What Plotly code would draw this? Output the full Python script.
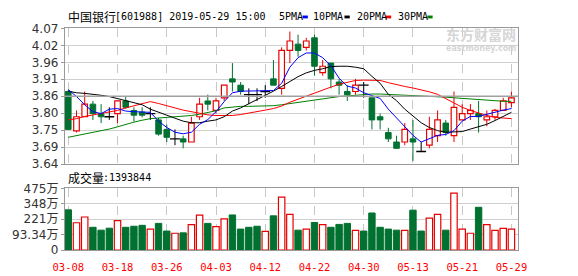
import plotly.graph_objects as go

# ---------------- data ----------------
dates = ["03-08", "03-11", "03-12", "03-13", "03-14", "03-15", "03-18", "03-19", "03-20", "03-21",
         "03-22", "03-25", "03-26", "03-27", "03-28", "03-29", "04-01", "04-02", "04-03", "04-04",
         "04-08", "04-09", "04-10", "04-11", "04-12", "04-15", "04-16", "04-17", "04-18", "04-19",
         "04-22", "04-23", "04-24", "04-25", "04-26", "04-29", "04-30", "05-06", "05-07", "05-08",
         "05-09", "05-10", "05-13", "05-14", "05-15", "05-16", "05-17", "05-20", "05-21", "05-22",
         "05-23", "05-24", "05-27", "05-28", "05-29"]

open_ = [3.87, 3.745, 3.79, 3.83, 3.80, 3.79, 3.80, 3.84, 3.81, 3.805,
         3.80, 3.78, 3.75, 3.72, 3.72, 3.71, 3.79, 3.84, 3.81, 3.85,
         3.91, 3.89, 3.86, 3.86, 3.87, 3.91, 3.88, 4.00, 4.02, 4.01,
         4.04, 3.93, 3.96, 3.90, 3.87, 3.87, 3.89, 3.85, 3.79, 3.74,
         3.71, 3.71, 3.72, 3.68, 3.70, 3.73, 3.77, 3.73, 3.78, 3.80,
         3.80, 3.78, 3.79, 3.81, 3.835]
high = [3.875, 3.81, 3.87, 3.84, 3.83, 3.82, 3.84, 3.855, 3.82, 3.82,
        3.82, 3.787, 3.765, 3.75, 3.73, 3.79, 3.85, 3.86, 3.85, 3.89,
        3.96, 3.90, 3.88, 3.88, 3.89, 3.97, 4.01, 4.06, 4.05, 4.04,
        4.05, 3.97, 3.96, 3.91, 3.89, 3.91, 3.90, 3.85, 3.80, 3.755,
        3.73, 3.77, 3.78, 3.71, 3.79, 3.81, 3.78, 3.87, 3.83, 3.83,
        3.84, 3.81, 3.815, 3.85, 3.87]
low = [3.75, 3.74, 3.79, 3.78, 3.77, 3.78, 3.77, 3.815, 3.775, 3.788,
       3.78, 3.73, 3.71, 3.70, 3.69, 3.71, 3.78, 3.81, 3.80, 3.84,
       3.87, 3.86, 3.83, 3.84, 3.85, 3.89, 3.86, 3.96, 3.98, 4.00,
       3.92, 3.92, 3.88, 3.86, 3.84, 3.86, 3.85, 3.75, 3.75, 3.71,
       3.69, 3.70, 3.65, 3.68, 3.69, 3.71, 3.73, 3.71, 3.78, 3.78,
       3.74, 3.76, 3.78, 3.81, 3.82]
close = [3.75, 3.79, 3.83, 3.80, 3.79, 3.79, 3.84, 3.82, 3.795, 3.795,
         3.80, 3.735, 3.725, 3.72, 3.71, 3.77, 3.83, 3.83, 3.84, 3.89,
         3.90, 3.87, 3.86, 3.86, 3.87, 3.89, 4.00, 4.03, 4.00, 4.03,
         3.95, 3.95, 3.91, 3.89, 3.86, 3.89, 3.89, 3.78, 3.78, 3.72,
         3.69, 3.75, 3.71, 3.68, 3.75, 3.78, 3.74, 3.82, 3.80, 3.81,
         3.79, 3.79, 3.81, 3.84, 3.85]

# volume in 万 (chart scale), and whether the volume bar is drawn as "up" (red hollow)
volume = [309, 210, 254, 175, 153, 168, 227, 175, 183, 190,
          161, 205, 146, 129, 132, 195, 268, 205, 180, 239,
          270, 161, 175, 183, 144, 263, 407, 275, 153, 161,
          212, 195, 175, 197, 205, 151, 146, 285, 175, 161,
          153, 151, 307, 146, 246, 275, 153, 438, 161, 129,
          329, 195, 151, 166, 161]
vol_up = [0, 1, 1, 0, 0, 0, 1, 0, 0, 0,
          1, 0, 0, 1, 0, 1, 1, 0, 1, 1,
          0, 0, 0, 0, 1, 0, 1, 1, 0, 1,
          0, 1, 0, 0, 0, 1, 0, 0, 0, 0,
          0, 1, 0, 0, 1, 1, 0, 1, 1, 1,
          0, 1, 1, 1, 1]

ma5 = [3.876, 3.854, 3.828, 3.806, 3.80, 3.814, 3.816, 3.808, 3.806, 3.806,
       3.804, 3.776, 3.756, 3.741, 3.736, 3.741, 3.766, 3.781, 3.806, 3.838,
       3.866, 3.871, 3.871, 3.872, 3.871, 3.873, 3.896, 3.947, 3.977, 3.992,
       3.992, 3.977, 3.952, 3.912, 3.887, 3.881, 3.866, 3.856, 3.848, 3.814,
       3.786, 3.756, 3.731, 3.71, 3.72, 3.731, 3.734, 3.746, 3.776, 3.791,
       3.791, 3.798, 3.804, 3.811, 3.816]
ma10 = [3.871, 3.866, 3.864, 3.862, 3.858, 3.854, 3.848, 3.842, 3.836, 3.828,
        3.814, 3.804, 3.794, 3.784, 3.776, 3.771, 3.771, 3.776, 3.78, 3.79,
        3.808, 3.818, 3.831, 3.844, 3.858, 3.871, 3.886, 3.902, 3.917, 3.929,
        3.937, 3.942, 3.949, 3.95, 3.95, 3.947, 3.942, 3.918, 3.896, 3.861,
        3.841, 3.814, 3.791, 3.771, 3.756, 3.746, 3.741, 3.741, 3.743, 3.751,
        3.758, 3.766, 3.778, 3.791, 3.804]
ma20 = [3.78, 3.784, 3.791, 3.796, 3.80, 3.804, 3.81, 3.818, 3.824, 3.831,
        3.838, 3.832, 3.824, 3.818, 3.811, 3.806, 3.801, 3.796, 3.794, 3.793,
        3.794, 3.797, 3.801, 3.806, 3.811, 3.816, 3.824, 3.836, 3.846, 3.854,
        3.864, 3.876, 3.884, 3.893, 3.898, 3.905, 3.906, 3.906, 3.905, 3.898,
        3.891, 3.886, 3.881, 3.876, 3.869, 3.861, 3.848, 3.833, 3.82, 3.81,
        3.801, 3.794, 3.788, 3.785, 3.784]
ma30 = [3.725, 3.73, 3.736, 3.741, 3.746, 3.751, 3.758, 3.766, 3.773, 3.779,
        3.784, 3.786, 3.788, 3.789, 3.791, 3.794, 3.798, 3.804, 3.809, 3.818,
        3.821, 3.823, 3.823, 3.823, 3.824, 3.825, 3.828, 3.832, 3.836, 3.84,
        3.844, 3.848, 3.851, 3.854, 3.856, 3.858, 3.861, 3.862, 3.862, 3.861,
        3.86, 3.859, 3.858, 3.857, 3.856, 3.854, 3.852, 3.85, 3.848, 3.846,
        3.844, 3.842, 3.84, 3.839, 3.839]

price_ticks = [3.64, 3.69375, 3.7475, 3.80125, 3.855, 3.90875, 3.9625, 4.01625, 4.07]
price_tick_labels = ["3.64", "3.69", "3.75", "3.80", "3.86", "3.91", "3.96", "4.02", "4.07"]
vol_ticks = [0, 118.75, 237.5, 356.25, 475]
vol_tick_labels = ["0", "93.34万", "221万", "348万", "475万"]
date_ticks = ["03-08", "03-18", "03-26", "04-03", "04-12", "04-22", "04-30", "05-13", "05-21", "05-29"]

title_name = "中国银行"
title_rest = "[601988] 2019-05-29 15:00"
vol_name = "成交量"
vol_rest = ":1393844"
ma_names = ["5PMA", "10PMA", "20PMA", "30PMA"]

# ---------------- style ----------------
RED = "#E60000"
GREEN = "#007130"
MA_COLORS = ["#0000FF", "#000000", "#FF0000", "#008000"]
W, H = 578, 276
PX0, PX1 = 55, 525.5
P_TOP, P_BOT = 22.5, 165.5
V_TOP, V_BOT = 191, 256
MONO = "DejaVu Sans Mono"
CJK = "Noto Sans CJK SC"


def px(x):
    return x / W


def py(y):
    return 1 - y / H


fig = go.Figure()

# candles
up_x, up_b, up_h = [], [], []
dn_x, dn_b, dn_h = [], [], []
dj_x, dj_y = [], []
wick = {"up": ([], []), "dn": ([], []), "dj": ([], [])}
for d, o, h, l, c in zip(dates, open_, high, low, close):
    top, bot = max(o, c), min(o, c)
    if c > o:
        key = "up"
        up_x.append(d); up_b.append(bot); up_h.append(top - bot)
    elif c < o:
        key = "dn"
        dn_x.append(d); dn_b.append(bot); dn_h.append(top - bot)
    else:
        key = "dj"
        dj_x.append(d); dj_y.append(c)
    wx, wy = wick[key]
    if h > top:
        wx += [d, d, None]; wy += [h, top, None]
    if l < bot:
        wx += [d, d, None]; wy += [bot, l, None]

fig.add_trace(go.Bar(x=up_x, base=up_b, y=up_h, width=0.68,
                     marker=dict(color="white", line=dict(color=RED, width=1.2)),
                     xaxis="x", yaxis="y", hoverinfo="skip"))
fig.add_trace(go.Bar(x=dn_x, base=dn_b, y=dn_h, width=0.68,
                     marker=dict(color=GREEN, line=dict(color=GREEN, width=1)),
                     xaxis="x", yaxis="y", hoverinfo="skip"))
for key, col in (("up", RED), ("dn", GREEN), ("dj", "#000000")):
    wx, wy = wick[key]
    fig.add_trace(go.Scatter(x=wx, y=wy, mode="lines", line=dict(color=col, width=1),
                             xaxis="x", yaxis="y", hoverinfo="skip"))
fig.add_trace(go.Scatter(x=dj_x, y=dj_y, mode="markers",
                         marker=dict(symbol="line-ew", size=7, line=dict(color="#000000", width=1.3)),
                         xaxis="x", yaxis="y", hoverinfo="skip"))

# moving averages
for ma, col in zip([ma30, ma20, ma10, ma5], MA_COLORS[::-1]):
    fig.add_trace(go.Scatter(x=dates, y=ma, mode="lines", line=dict(color=col, width=1),
                             xaxis="x", yaxis="y", hoverinfo="skip"))

# volume
vx_up = [d for d, u in zip(dates, vol_up) if u]
vy_up = [v for v, u in zip(volume, vol_up) if u]
vx_dn = [d for d, u in zip(dates, vol_up) if not u]
vy_dn = [v for v, u in zip(volume, vol_up) if not u]
fig.add_trace(go.Bar(x=vx_up, y=vy_up, width=0.78,
                     marker=dict(color="white", line=dict(color=RED, width=1.2)),
                     xaxis="x2", yaxis="y2", hoverinfo="skip"))
fig.add_trace(go.Bar(x=vx_dn, y=vy_dn, width=0.78,
                     marker=dict(color=GREEN, line=dict(color=GREEN, width=1)),
                     xaxis="x2", yaxis="y2", hoverinfo="skip"))

axis_common = dict(showline=True, mirror=True, linecolor="#999999", linewidth=1.3, zeroline=False)
xr = [-0.4, len(dates) - 1 + 0.85]

fig.update_layout(
    width=W, height=H, margin=dict(l=0, r=0, t=0, b=0),
    paper_bgcolor="white", plot_bgcolor="white", showlegend=False, barmode="overlay",
    xaxis=dict(domain=[px(PX0), px(PX1)], anchor="y", type="category", range=xr,
               categoryorder="array", categoryarray=dates,
               tickvals=date_ticks, showticklabels=False, ticks="",
               showgrid=True, gridcolor="#c8c8c8", griddash="dash", gridwidth=1, **axis_common),
    yaxis=dict(domain=[py(P_BOT), py(P_TOP)], anchor="x", range=[3.64, 4.07],
               tickvals=price_ticks, ticktext=price_tick_labels,
               ticks="outside", ticklen=3, tickcolor="#999999",
               tickfont=dict(family="DejaVu Sans", size=12, color="#333333"),
               showgrid=True, gridcolor="#d0d0d0", gridwidth=1, **axis_common),
    xaxis2=dict(domain=[px(PX0), px(PX1)], anchor="y2", type="category", range=xr,
                categoryorder="array", categoryarray=dates, matches="x",
                tickvals=date_ticks, ticktext=date_ticks,
                ticks="outside", ticklen=7, tickcolor="rgba(0,0,0,0)",
                tickfont=dict(family=MONO, size=10.5, color="#FF0000"),
                showgrid=True, gridcolor="#c8c8c8", griddash="dash", gridwidth=1, **axis_common),
    yaxis2=dict(domain=[py(V_BOT), py(V_TOP)], anchor="x2", range=[0, 475],
                tickvals=vol_ticks, ticktext=vol_tick_labels,
                ticks="outside", ticklen=3, tickcolor="#999999",
                tickfont=dict(family="DejaVu Sans, " + CJK, size=12, color="#333333"),
                showgrid=True, gridcolor="#d0d0d0", gridwidth=1, **axis_common),
)

# darker middle reference line in price panel
fig.add_shape(type="line", xref="x domain", yref="y", x0=0, x1=1,
              y0=price_ticks[4], y1=price_ticks[4], line=dict(color="#a0a0a0", width=1.3))

# header texts
def txt(x, y, s, family, size, color="#000000", anchor="left", bold=False):
    fig.add_annotation(x=px(x), y=py(y), xref="paper", yref="paper", text=("<b>%s</b>" % s) if bold else s,
                       showarrow=False, xanchor=anchor, yanchor="middle",
                       font=dict(family=family, size=size, color=color))

txt(56, 10.5, title_name, CJK, 12)
txt(104.5, 10.5, title_rest, MONO, 10)
txt(56, 180, vol_name, CJK, 12)
txt(92.5, 180, vol_rest, MONO, 10)

leg_x = [275, 310.5, 355.5, 398.5]
box_x = [301.5, 345, 388, 431]
for name, lx, bx, col in zip(ma_names, leg_x, box_x, MA_COLORS):
    txt(lx, 10.5, name, MONO, 10)
    fig.add_shape(type="rect", xref="paper", yref="paper", x0=px(bx), x1=px(bx + 5.5),
                  y0=py(12), y1=py(9), line=dict(width=0), fillcolor=col)

# watermark
txt(525, 28.5, "东方财富网", CJK, 14, color="#d6d6d6", anchor="right", bold=True)
txt(525, 43.5, "eastmoney.com", "DejaVu Sans", 8, color="#d6d6d6", anchor="right", bold=True)

fig.write_html("out.html", config={"displayModeBar": False})
